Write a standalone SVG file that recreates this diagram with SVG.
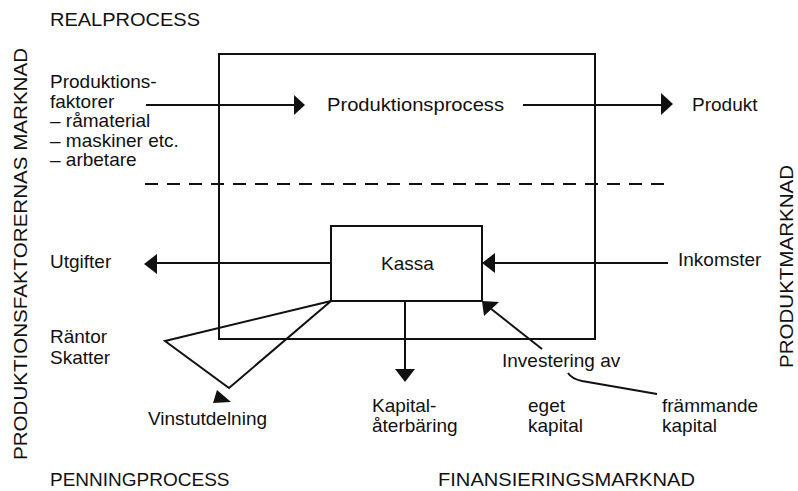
<svg xmlns="http://www.w3.org/2000/svg" width="798" height="491" viewBox="0 0 798 491">
<style>
text{font-family:"Liberation Sans",Arial,sans-serif;font-size:19px;fill:#111}
.ln{stroke:#111;stroke-width:2;fill:none}
.hd{fill:#111;stroke:none}
</style>
<rect width="798" height="491" fill="#fff"/>
<g id="realprocess-box"><rect class="ln" x="219" y="54" width="376" height="285"/></g>
<g id="kassa"><rect class="ln" x="331" y="226" width="151" height="75"/><text x="381" y="270">Kassa</text></g>
<g id="connectors">
<line class="ln" x1="146" y1="105" x2="296" y2="105"/>
<polygon class="hd" points="305,105 294,95 294,115"/>
<line class="ln" x1="523" y1="105" x2="662" y2="105"/>
<polygon class="hd" points="673,104 661,93 661,115"/>
<line class="ln" x1="145" y1="184" x2="667" y2="184" stroke-dasharray="13 9"/>
<line class="ln" x1="156" y1="263" x2="331" y2="263"/>
<polygon class="hd" points="144,264 157,254 157,274"/>
<line class="ln" x1="494" y1="263" x2="668" y2="263"/>
<polygon class="hd" points="482,263 495,253 495,273"/>
<line class="ln" x1="405" y1="301" x2="405" y2="371"/>
<polygon class="hd" points="405,382 395,369 415,369"/>
<line class="ln" x1="542" y1="349" x2="490" y2="308"/>
<polygon class="hd" points="482,301 499,302 484,316"/>
<polyline class="ln" points="331,301 165,341 229,388 331,301" stroke-linejoin="miter"/>
<polygon class="hd" points="217,390 213,403 231,402"/>
<path class="ln" d="M568,373 Q572,379 582,381 L657,394"/>
</g>
<g id="labels">
<text x="50" y="26" textLength="150" lengthAdjust="spacingAndGlyphs">REALPROCESS</text>
<text x="50" y="88">Produktions-</text>
<text x="50" y="108">faktorer</text>
<text x="50" y="127">– råmaterial</text>
<text x="50" y="147">– maskiner etc.</text>
<text x="50" y="166">– arbetare</text>
<text x="327" y="111" textLength="177" lengthAdjust="spacingAndGlyphs">Produktionsprocess</text>
<text x="692" y="111">Produkt</text>
<text x="50" y="268">Utgifter</text>
<text x="678" y="266">Inkomster</text>
<text x="50" y="343">Räntor</text>
<text x="50" y="364">Skatter</text>
<text x="148" y="425">Vinstutdelning</text>
<text x="372" y="412">Kapital-</text>
<text x="372" y="432">återbäring</text>
<text x="502" y="367">Investering av</text>
<text x="528" y="412">eget</text>
<text x="528" y="432">kapital</text>
<text x="662" y="412">främmande</text>
<text x="662" y="432">kapital</text>
<text x="50" y="486">PENNINGPROCESS</text>
<text x="438" y="486" textLength="257" lengthAdjust="spacingAndGlyphs">FINANSIERINGSMARKNAD</text>
<text transform="translate(27,460) rotate(-90)" textLength="412" lengthAdjust="spacingAndGlyphs">PRODUKTIONSFAKTORERNAS MARKNAD</text>
<text transform="translate(793,368) rotate(-90)" style="font-size:18px" textLength="203" lengthAdjust="spacingAndGlyphs">PRODUKTMARKNAD</text>
</g>
</svg>
